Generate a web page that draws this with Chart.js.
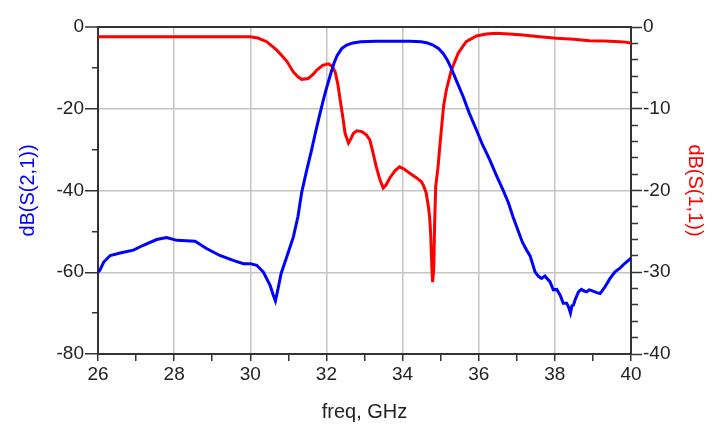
<!DOCTYPE html>
<html>
<head>
<meta charset="utf-8">
<script src="https://cdn.jsdelivr.net/npm/chart.js@4"></script>
<style>
  html, body { margin: 0; padding: 0; background: #fff; }
  #wrap { width: 726px; height: 434px; position: relative; }
</style>
</head>
<body>
<div id="wrap"><canvas id="chart"></canvas></div>
<script>
// S21 (left axis), dB vs freq in GHz
const s21Freq = [26.0, 26.05, 26.15, 26.32, 26.58, 26.93, 27.19, 27.54, 27.8, 28.07, 28.55, 28.85, 29.2, 29.55, 29.82, 30.0,
  30.17, 30.34, 30.52, 30.6, 30.66, 30.73, 30.81, 30.97, 31.13, 31.25, 31.35, 31.47, 31.6, 31.72, 31.83, 31.92, 32.0,
  32.1, 32.2, 32.28, 32.4, 32.53, 32.7, 32.9, 33.3, 33.8, 34.2, 34.49, 34.65, 34.8, 34.95, 35.06, 35.17, 35.28, 35.43,
  35.59, 35.75, 35.94, 36.1, 36.29, 36.45, 36.64, 36.78, 36.9, 37.05, 37.15, 37.26, 37.35, 37.48, 37.57, 37.65, 37.74,
  37.8, 37.87, 37.96, 38.05, 38.14, 38.22, 38.31, 38.36, 38.41, 38.45, 38.49, 38.53, 38.62, 38.7, 38.77, 38.84, 38.9,
  38.97, 39.1, 39.19, 39.32, 39.45, 39.58, 39.71, 39.84, 39.97, 40.0];
const s21Db = [-60.0, -59.5, -57.5, -55.9, -55.3, -54.6, -53.4, -52.0, -51.5, -52.2, -52.4, -54.2, -55.9, -57.1, -57.9, -57.9,
  -58.3, -59.9, -63.2, -65.5, -67.0, -64.0, -60.3, -55.9, -51.4, -46.5, -40.5, -35.5, -30.5, -25.5, -21.2, -17.8, -15.0,
  -11.8, -8.8, -7.0, -5.3, -4.4, -3.9, -3.6, -3.5, -3.5, -3.5, -3.6, -3.9, -4.4, -5.3, -6.4, -8.0, -10.1, -13.5,
  -17.0, -21.0, -25.2, -28.8, -32.5, -36.0, -39.9, -43.0, -46.4, -50.2, -52.7, -54.6, -56.0, -59.9, -61.0, -61.5, -60.9,
  -61.6, -62.3, -64.3, -64.2, -65.6, -67.6, -67.6, -68.5, -70.0, -68.2, -68.0, -66.8, -64.8, -64.2, -64.6, -64.8, -64.3,
  -64.5, -65.0, -65.2, -63.5, -61.5, -59.9, -59.0, -57.8, -56.8, -56.5];

// S11 (right axis)
const s11Freq = [26.0, 27.0, 28.0, 29.0, 30.0, 30.2, 30.43, 30.69, 30.85, 30.96, 31.13, 31.25, 31.35, 31.52, 31.65, 31.74,
  31.9, 32.05, 32.15, 32.23, 32.3, 32.36, 32.43, 32.49, 32.58, 32.65, 32.71, 32.8, 32.93, 33.05, 33.14, 33.22, 33.31,
  33.4, 33.49, 33.57, 33.66, 33.8, 33.92, 34.05, 34.19, 34.35, 34.49, 34.55, 34.62, 34.67, 34.71, 34.74, 34.77, 34.79,
  34.82, 34.84, 34.87, 34.93, 34.98, 35.03, 35.08, 35.15, 35.28, 35.46, 35.67, 35.94, 36.2, 36.46, 36.8, 37.16, 37.6,
  38.04, 38.5, 38.91, 39.3, 39.7, 39.85, 40.0];
const s11Db = [-1.2, -1.2, -1.2, -1.2, -1.2, -1.35, -1.8, -2.8, -3.6, -4.2, -5.5, -6.1, -6.4, -6.3, -5.8, -5.3,
  -4.7, -4.5, -4.8, -5.5, -7.0, -8.9, -11.0, -13.0, -14.2, -13.6, -13.0, -12.7, -12.8, -13.2, -13.8, -15.3, -17.1,
  -18.6, -19.7, -19.3, -18.5, -17.6, -17.1, -17.4, -17.9, -18.4, -18.9, -19.4, -20.3, -21.7, -23.2, -25.5, -29.5, -31.2,
  -29.5, -24.5, -19.5, -17.2, -14.5, -12.0, -9.6, -7.7, -5.3, -3.2, -1.8, -1.1, -0.85, -0.77, -0.85, -0.98, -1.2,
  -1.39, -1.5, -1.67, -1.72, -1.8, -1.85, -1.95];

const freqTickLabels = [26, 28, 30, 32, 34, 36, 38, 40];
const leftTickLabels = [0, -20, -40, -60, -80];
const rightTickLabels = [0, -10, -20, -30, -40];

const FONT = "'Liberation Sans', Arial, sans-serif";
const AXIS = '#333333';
const GRID = '#c4c4c4';
const TXT = '#222222';

const toPoints = (xs, ys) => xs.map((x, i) => ({ x, y: ys[i] }));

new Chart(document.getElementById('chart'), {
  type: 'line',
  data: {
    datasets: [
      {
        label: 'dB(S(2,1))',
        data: toPoints(s21Freq, s21Db),
        yAxisID: 'y',
        borderColor: '#0000ff',
        borderWidth: 3,
        pointRadius: 0,
        tension: 0
      },
      {
        label: 'dB(S(1,1))',
        data: toPoints(s11Freq, s11Db),
        yAxisID: 'y1',
        borderColor: '#ff0000',
        borderWidth: 3,
        pointRadius: 0,
        tension: 0
      }
    ]
  },
  options: {
    responsive: true,
    maintainAspectRatio: false,
    animation: false,
    layout: { padding: { top: 27, left: 0, right: 0, bottom: 0 } },
    plugins: { legend: { display: false }, tooltip: { enabled: false } },
    scales: {
      x: {
        type: 'linear',
        position: 'bottom',
        min: 26,
        max: 40,
        afterFit: s => { s.height = 80; },
        ticks: {
          stepSize: 1,
          autoSkip: false,
          maxRotation: 0,
          padding: 2,
          color: TXT,
          font: { family: FONT, size: 19 },
          callback: v => freqTickLabels.includes(v) ? String(v) : ''
        },
        grid: {
          color: c => freqTickLabels.includes(c.tick.value) ? GRID : 'transparent',
          lineWidth: 1.5,
          tickColor: AXIS,
          tickLength: 7,
          tickWidth: 1.5
        },
        border: { color: AXIS, width: 2 },
        title: {
          display: true,
          text: 'freq, GHz',
          color: TXT,
          font: { family: FONT, size: 20 },
          padding: { top: 0, bottom: 10 }
        }
      },
      y: {
        position: 'left',
        min: -80,
        max: 0,
        afterFit: s => { s.width = 98; },
        ticks: {
          stepSize: 10,
          autoSkip: false,
          padding: 1,
          color: TXT,
          font: { family: FONT, size: 19 },
          callback: v => leftTickLabels.includes(v) ? String(v) : ''
        },
        grid: {
          color: c => c.tick.value === 0 ? AXIS : (leftTickLabels.includes(c.tick.value) ? GRID : 'transparent'),
          lineWidth: c => c.tick.value === 0 ? 2 : 1.5,
          tickColor: AXIS,
          tickLength: 13,
          tickWidth: 1.5,
          tickBorderDash: c => leftTickLabels.includes(c.tick.value) ? [] : [0, 7, 20]
        },
        border: { color: AXIS, width: 2 },
        title: {
          display: true,
          text: 'dB(S(2,1))',
          color: '#0000ff',
          font: { family: FONT, size: 20 },
          padding: { top: 16, bottom: 0 }
        }
      },
      y1: {
        position: 'right',
        min: -40,
        max: 0,
        afterFit: s => { s.width = 95; },
        ticks: {
          stepSize: 2,
          autoSkip: false,
          padding: 1,
          color: TXT,
          font: { family: FONT, size: 19 },
          callback: v => rightTickLabels.includes(v) ? String(v) : ''
        },
        grid: {
          drawOnChartArea: false,
          tickColor: AXIS,
          tickLength: 11,
          tickWidth: 1.5,
          tickBorderDash: c => rightTickLabels.includes(c.tick.value) ? [] : [6, 100]
        },
        border: { color: AXIS, width: 2 },
        title: {
          display: true,
          text: 'dB(S(1,1))',
          color: '#ff0000',
          font: { family: FONT, size: 20 },
          padding: { top: 19, bottom: 0 }
        }
      }
    }
  }
});
</script>
</body>
</html>
